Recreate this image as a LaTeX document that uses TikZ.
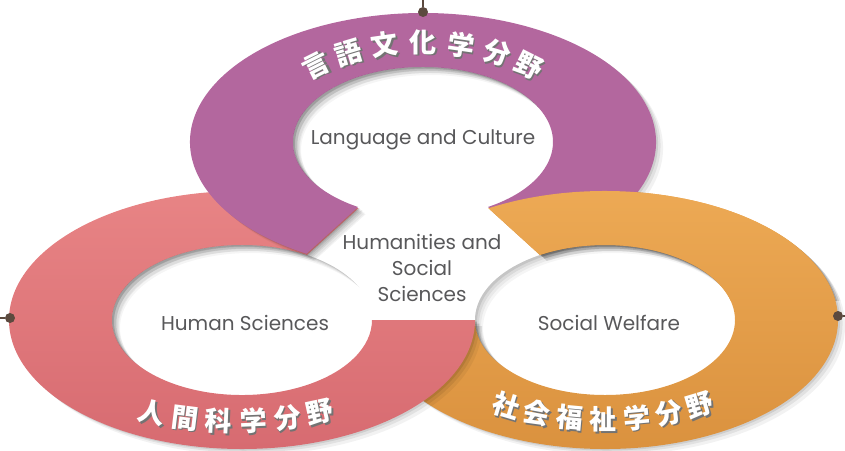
\documentclass[tikz,border=0pt]{standalone}
\usepackage{fontspec}
\newfontfamily\latinfont{Poppins}
\newfontfamily\jpfont{Noto Sans CJK JP}
\usetikzlibrary{calc, shadows}

\definecolor{purpleband}{HTML}{B3679E}
\definecolor{pinktop}{HTML}{E88485}
\definecolor{pinkbot}{HTML}{D76B71}
\definecolor{orangetop}{HTML}{EEAB56}
\definecolor{orangebot}{HTML}{D9903D}
\definecolor{pinbrown}{HTML}{5C4A3F}
\definecolor{labelgray}{HTML}{58585A}

% ring with a gap, angles run clockwise from the right
\newcommand{\bandpath}[3]{%
  ($(#1)+({\Rx*cos(#2)},{\Ry*sin(#2)})$)
  arc[start angle=#2, end angle=#3, x radius=\Rx, y radius=\Ry]
  -- ($(#1)+({\rx*cos(#3)},{\ry*sin(#3)})$)
  arc[start angle=#3, end angle=#2, x radius=\rx, y radius=\ry] -- cycle}

% soft shadow inside the white hole
\newcommand{\holeshadow}[1]{%
  \begin{scope}
    \clip (#1) ellipse[x radius=\rx, y radius=\ry];
    \foreach \s/\o in {8/0.04, 6/0.05, 4/0.07, 2/0.09} {
      \fill[black, opacity=\o, even odd rule]
        (#1) ellipse[x radius=\rx+30, y radius=\ry+30]
        ($(#1)+(\s,\s)$) ellipse[x radius=\rx, y radius=\ry];
    }
  \end{scope}}

% white glyph with a dark copy behind it
\newcommand{\shadowed}[1]{%
  \makebox[0pt][l]{\hspace{1.6pt}\raisebox{-1.6pt}{\color{black!55}#1}}#1}

\begin{document}
\begin{tikzpicture}[x=1pt, y=-1pt,
  bandshadow/.style={
    general shadow={fill=black, opacity=.05, shadow xshift=7pt, shadow yshift=-6pt},
    general shadow={fill=black, opacity=.07, shadow xshift=4.5pt, shadow yshift=-3.5pt},
    general shadow={fill=black, opacity=.09, shadow xshift=2pt, shadow yshift=-1.5pt}},
  holelabel/.style={font=\latinfont\fontsize{20}{26}\selectfont, text=labelgray, inner sep=0pt},
  jplabel/.style={font=\jpfont\bfseries\fontsize{27}{27}\selectfont, text=white, inner sep=0pt},
  pindot/.style={circle, fill=pinbrown, minimum size=10pt, inner sep=0pt},
  pinline/.style={draw=pinbrown, line width=1.3pt}]

	\useasboundingbox (0,0) rectangle (845,450);

	\def\Rx{233}
	\def\Ry{129}
	\def\rx{130}
	\def\ry{75}

	\coordinate (P) at (423,142);
	\coordinate (H) at (242,320);
	\coordinate (W) at (605,320);

	% orange
	\shade[bandshadow, top color=orangetop, bottom color=orangebot] \bandpath{W}{240}{540};
	\holeshadow{W}

	% pink
	\shade[bandshadow, top color=pinktop, bottom color=pinkbot] \bandpath{H}{0}{300};
	\holeshadow{H}

	% purple
	\fill[bandshadow, purpleband] \bandpath{P}{120}{420};
	\holeshadow{P}

	% orange again over the purple
	\begin{scope}
		\clip (423,0) rectangle (845,300);
		\shade[bandshadow, top color=orangetop, bottom color=orangebot] \bandpath{W}{240}{540};
	\end{scope}

	% texts in the holes
	\node[holelabel] (lang) at (423,140) {Language and Culture};
	\node[holelabel] (human) at (245,323) {Human Sciences};
	\node[holelabel] (welfare) at (609,323) {Social Welfare};
	\node[holelabel, align=center] (humsoc) at (422,268) {Humanities and\\Social\\Sciences};

	% titles on the rings
	\foreach \ch [count=\i from 0] in {言,語,文,化,学,分,野} {
		\pgfmathsetmacro\t{230+\i*80/6}
		\pgfmathsetmacro\rot{atan2(-99*cos(\t), -165*sin(\t))}
		\node[jplabel, rotate=\rot] (lang\i) at ($(P)+({165*cos(\t)},{99*sin(\t)})$) {\shadowed{\ch}};
	}
	\foreach \ch [count=\i from 0] in {人,間,科,学,分,野} {
		\pgfmathsetmacro\t{113.6-\i*47.2/5}
		\pgfmathsetmacro\rot{atan2(104*cos(\t), 210*sin(\t))}
		\node[jplabel, rotate=\rot] (hum\i) at ($(236,318)+({210*cos(\t)},{104*sin(\t)})$) {\shadowed{\ch}};
	}
	\foreach \ch [count=\i from 0] in {社,会,福,祉,学,分,野} {
		\pgfmathsetmacro\t{119.8-\i*59.6/6}
		\pgfmathsetmacro\rot{atan2(102*cos(\t), 195*sin(\t))}
		\node[jplabel, rotate=\rot] (wel\i) at ($(603,318)+({195*cos(\t)},{102*sin(\t)})$) {\shadowed{\ch}};
	}

	% pins
	\node[pindot] (toppin) at (423,12) {};
	\coordinate (topend) at (423,0);
	\draw[pinline] (topend) -- (toppin);
	\node[pindot] (leftpin) at (10,318) {};
	\coordinate (leftend) at (0,318);
	\draw[pinline] (leftend) -- (leftpin);
	\node[pindot] (rightpin) at (838,316) {};
	\coordinate (rightend) at (845,316);
	\draw[pinline] (rightpin) -- (rightend);

\end{tikzpicture}
\end{document}
